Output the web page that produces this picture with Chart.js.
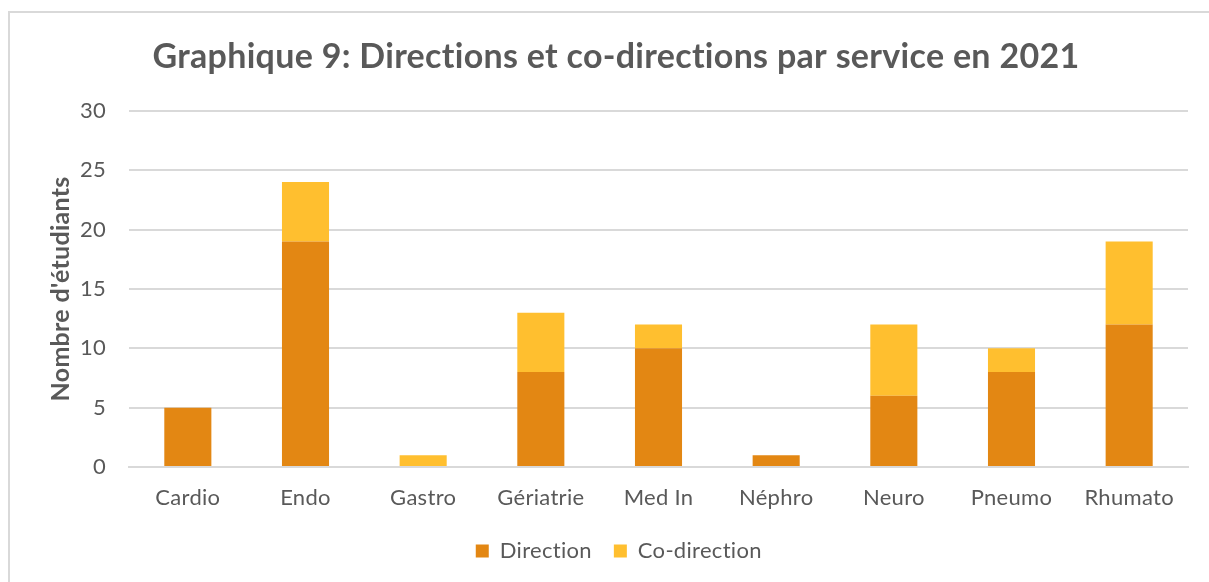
<!DOCTYPE html>
<html>
<head>
<meta charset="utf-8">
<script src="https://cdn.jsdelivr.net/npm/chart.js@4/dist/chart.umd.min.js"></script>
<style>
  html, body { margin: 0; padding: 0; background: #fff; overflow: hidden; }
  #wrap { position: relative; width: 1209px; height: 582px; }
  #frame { position: absolute; left: 8px; top: 11px; width: 1300px; height: 700px; border: 2px solid #d9d9d9; box-sizing: border-box; pointer-events: none; }
  canvas { position: absolute; left: 0; top: 0; }
</style>
</head>
<body>
<div id="wrap">
  <div id="frame"></div>
  <canvas id="serviceChart" width="1209" height="582"></canvas>
</div>
<script>
var categories = ['Cardio', 'Endo', 'Gastro', 'Gériatrie', 'Med In', 'Néphro', 'Neuro', 'Pneumo', 'Rhumato'];
var directionValues = [5, 19, 0, 8, 10, 1, 6, 8, 12];
var coDirectionValues = [0, 5, 1, 5, 2, 0, 6, 2, 7];
var yMax = 30;
var yStep = 5;

var textColor = '#595959';
var gridColor = '#d9d9d9';
var fontFamily = 'Lato, "Open Sans", sans-serif';

// tiny letter spacing so canvas does not join "ti" into a ligature
var noLigatures = {
  id: 'noLigatures',
  beforeDraw: function (chart) {
    chart.ctx.letterSpacing = '0.3px';
  },
};

function renderChart() {
  var ctx = document.getElementById('serviceChart').getContext('2d');
  new Chart(ctx, {
    type: 'bar',
    plugins: [noLigatures],
    data: {
      labels: categories,
      datasets: [
        {
          label: 'Direction',
          data: directionValues,
          backgroundColor: '#e38713',
          borderWidth: 0,
        },
        {
          label: 'Co-direction',
          data: coDirectionValues,
          backgroundColor: '#ffbf2f',
          borderWidth: 0,
        },
      ],
    },
    options: {
      responsive: false,
      animation: false,
      layout: {
        padding: { left: 44, right: 21, top: 0, bottom: 10 },
      },
      datasets: {
        bar: { categoryPercentage: 1, barPercentage: 0.4 },
      },
      plugins: {
        title: {
          display: true,
          text: 'Graphique 9: Directions et co-directions par service en 2021',
          color: textColor,
          font: { family: fontFamily, size: 34, weight: 'bold' },
          padding: { top: 37, bottom: 33 },
        },
        legend: {
          position: 'bottom',
          labels: {
            color: textColor,
            font: { family: fontFamily, size: 22 },
            boxWidth: 13,
            boxHeight: 13,
            padding: 22,
          },
        },
        tooltip: { enabled: false },
      },
      scales: {
        x: {
          stacked: true,
          grid: { display: false, drawTicks: false },
          border: { color: gridColor, width: 2 },
          ticks: {
            color: textColor,
            font: { family: fontFamily, size: 22 },
            padding: 18,
            maxRotation: 0,
          },
          afterFit: function (scale) {
            scale.height = 51;
          },
        },
        y: {
          stacked: true,
          min: 0,
          max: yMax,
          grid: { color: gridColor, lineWidth: 2, drawTicks: false },
          border: { display: false },
          ticks: {
            stepSize: yStep,
            color: textColor,
            font: { family: fontFamily, size: 22 },
            padding: 23,
          },
          title: {
            display: true,
            text: "Nombre d'étudiants",
            color: textColor,
            font: { family: fontFamily, size: 25, weight: 'bold' },
            padding: { top: 2, bottom: 0 },
          },
          afterFit: function (scale) {
            scale.width = 85;
          },
        },
      },
    },
  });
}

renderChart();
</script>
</body>
</html>
